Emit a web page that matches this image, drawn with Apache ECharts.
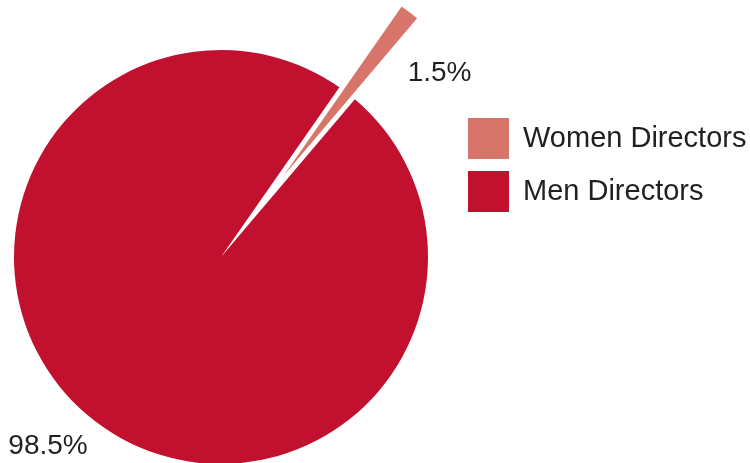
<!DOCTYPE html>
<html>
<head>
<meta charset="utf-8">
<script src="https://cdn.jsdelivr.net/npm/echarts@6/dist/echarts.min.js"></script>
<style>
  html, body { margin: 0; padding: 0; background: #fff; }
  #chart { width: 750px; height: 463px; }
</style>
</head>
<body>
<div id="chart"></div>
<script>
// data
var categories = ['Women Directors', 'Men Directors'];
var shares = [1.5, 98.5];
var colors = ['#d8756a', '#c1112f'];

var chart = echarts.init(document.getElementById('chart'));

var option = {
    animation: false,
    color: colors,
    legend: {
        orient: 'vertical',
        left: 463,
        top: 113,
        itemWidth: 41,
        itemHeight: 41,
        itemGap: 12,
        icon: 'rect',
        selectedMode: false,
        textStyle: {
            fontFamily: 'Liberation Sans, Arial, sans-serif',
            fontSize: 29,
            color: '#231f20',
            padding: [0, 0, 0, 9]
        },
        data: categories
    },
    series: [{
        type: 'pie',
        center: [221, 257],
        radius: [0, 207],
        startAngle: 55.1,
        clockwise: true,
        selectedMode: 'single',
        selectedOffset: 102,
        avoidLabelOverlap: false,
        label: {
            show: true,
            position: 'outside',
            formatter: '{c}%',
            fontFamily: 'Liberation Sans, Arial, sans-serif',
            fontSize: 28,
            color: '#231f20'
        },
        labelLine: { show: false },
        // nudge the two percentage labels to where the original has them
        labelLayout: function (params) {
            if (params.dataIndex === 0) {
                return { dx: -46, dy: 73 };
            }
            return { x: 48, y: 446, align: 'center', verticalAlign: 'middle' };
        },
        emphasis: { disabled: true },
        data: categories.map(function (name, i) {
            return { name: name, value: shares[i], selected: i === 0 };
        })
    }]
};

chart.setOption(option);
</script>
</body>
</html>
